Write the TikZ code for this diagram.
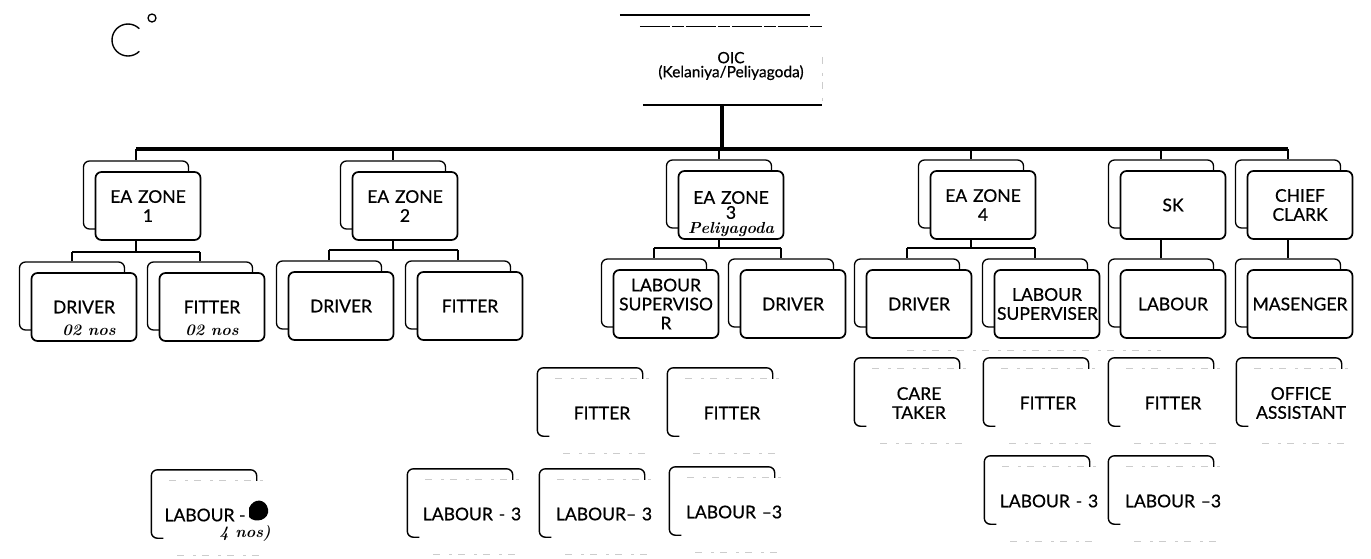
\documentclass[tikz,border=0pt]{standalone}
\usepackage{fontspec}
\setsansfont{Lato}[FakeBold=0.6]
\renewcommand\familydefault{\sfdefault}
\usetikzlibrary{calc}

% shadowed box: a back card offset up-left, the titled front card on top
\newcommand\shbox[4]{%
  \node[backbox] (#1b) at (#2-12,#3-11) {};
  \node[frontbox] (#1) at (#2,#3) {#4};}
% faded box: only the back card's top and left edges are printed
\newcommand\fadebox[4]{%
  \node[ghost] (#1) at (#2,#3) {#4};
  \draw[edge] ($(#1.south west)+(0,-11)$) -- ($(#1.south west)+(-12,-11)$)
     -- ($(#1.north west)+(-12,-11)$) -- ($(#1.north east)+(-12,-11)$)
     -- ($(#1.north east)+(-12,0)$);
  \draw[faint] ($(#1.north west)+(6,0)$) -- ($(#1.north east)+(-6,0)$);
  \draw[faint] ($(#1.south west)+(14,6)$) -- ($(#1.south east)+(-10,6)$);}
% pen-written notes
\newcommand\handfont{\rmfamily\itshape}

\begin{document}
\begin{tikzpicture}[x=1pt,y=-1pt,
  every node/.style={font=\fontsize{17.5}{19}\selectfont},
  box/.style={rounded corners=6pt, minimum width=105pt, minimum height=68pt,
    text width=100pt, inner xsep=2.5pt, inner ysep=0pt, align=center},
  frontbox/.style={box, draw, fill=white, line width=1.7pt},
  backbox/.style={box, draw, fill=white, line width=1.3pt},
  ghost/.style={box},
  bus/.style={line width=3.2pt},
  brk/.style={line width=2.8pt},
  drop/.style={line width=1.8pt},
  edge/.style={line width=1.4pt, rounded corners=6pt},
  faint/.style={gray!40, line width=0.8pt, dash pattern=on 7pt off 9pt on 3pt off 6pt},
  hand/.style={font=\handfont\bfseries\fontsize{16}{16}\selectfont, inner sep=1pt}
]
\fill[white] (0,0) rectangle (1371,558);
\useasboundingbox (0,0) rectangle (1371,558);

% head office
\node[align=center, minimum width=182pt, minimum height=78pt, inner sep=0pt,
  font=\fontsize{15.5}{14}\selectfont] (oic) at (731,66) {OIC\\(Kelaniya/Peliyagoda)};
\draw[line width=1.4pt] ($(oic.north west)+(-20,-12)$) -- ($(oic.north east)+(-12,-12)$);
\draw[line width=1.2pt, dash pattern=on 30pt off 2pt on 12pt off 2pt] (oic.north west) -- (oic.north east);
\draw[line width=1.5pt] ($(oic.south west)+(3,0)$) -- (oic.south east);
\draw[faint] ($(oic.north east)+(0,30)$) -- ($(oic.south east)+(0,-4)$);

% first level
\shbox{zA}{148}{206}{EA ZONE\\1}
\shbox{zB}{405}{206}{EA ZONE\\2}
\shbox{zC}{731}{205}{EA ZONE\\[-4pt]3}
\node[hand] (zCn) at (731,230) {Peliyagoda};
\shbox{zD}{983}{205}{EA ZONE\\4}
\shbox{sk}{1173}{205}{SK}
\shbox{cc}{1300}{205}{CHIEF\\CLARK}

% second level
\shbox{dA}{84}{307}{DRIVER}
\shbox{fA}{212}{307}{FITTER}
\node[hand] (dAn) at (89,330) {02 nos};
\node[hand] (fAn) at (212,330) {02 nos};
\shbox{dB}{341}{306}{DRIVER}
\shbox{fB}{470}{306}{FITTER}
\shbox{lsC}{666}{304}{LABOUR\\SUPERVISO\\R}
\shbox{dC}{793}{304}{DRIVER}
\shbox{dD}{919}{304}{DRIVER}
\shbox{lsD}{1047}{304}{LABOUR\\SUPERVISER}
\shbox{lab}{1173}{304}{LABOUR}
\shbox{mas}{1300}{304}{MASENGER}

% third level
\fadebox{fC1}{602}{413}{FITTER}
\fadebox{fC2}{732}{413}{FITTER}
\fadebox{ctD}{919}{403}{CARE\\TAKER}
\fadebox{fD}{1048}{403}{FITTER}
\fadebox{fS}{1173}{403}{FITTER}
\fadebox{oa}{1301}{403}{OFFICE\\ASSISTANT}

% fourth level
\fadebox{lA}{216}{515}{}
\node (lAt) at (205,515) {LABOUR -};
\node[hand] (lAn) at (245,533) {4 nos)};
\fill (249,508) .. controls (254,497) and (266,499) .. (268,509)
      .. controls (270,520) and (255,524) .. (249,517) -- cycle;
\fadebox{lB}{472}{514}{LABOUR - 3}
\fadebox{lC1}{604}{514}{LABOUR– 3}
\fadebox{lC2}{734}{512}{LABOUR –3}
\fadebox{lD1}{1049}{501}{LABOUR - 3}
\fadebox{lD2}{1173}{501}{LABOUR –3}

% main bus
\coordinate (busy) at (0,149);
\draw[line width=3.8pt] ([xshift=-9pt]oic.south) -- ([xshift=-9pt]oic.south |- busy);
\draw[bus] (zAb.north |- busy) -- (ccb.north |- busy);
\foreach \n in {zA,zB,zC,zD,sk,cc}
  \draw[drop] (\n b.north |- busy) -- (\n b.north);

% zone brackets
\coordinate (bA) at (0,252);
\coordinate (bB) at (0,250);
\coordinate (bC) at (0,248);
\coordinate (bD) at (0,248);
\draw[drop] (zAb.north |- zA.south) -- (zAb.north |- bA);
\draw[brk] (dAb.north |- bA) -- (fAb.north |- bA);
\draw[drop] (dAb.north |- bA) -- (dAb.north);
\draw[drop] (fAb.north |- bA) -- (fAb.north);
\draw[drop] (zBb.north |- zB.south) -- (zBb.north |- bB);
\draw[brk] (dBb.north |- bB) -- (fBb.north |- bB);
\draw[drop] (dBb.north |- bB) -- (dBb.north);
\draw[drop] (fBb.north |- bB) -- (fBb.north);
\draw[drop] (zCb.north |- zC.south) -- (zCb.north |- bC);
\draw[brk] (lsCb.north |- bC) -- (dCb.north |- bC);
\draw[drop] (lsCb.north |- bC) -- (lsCb.north);
\draw[drop] (dCb.north |- bC) -- (dCb.north);
\draw[drop] (zDb.north |- zD.south) -- (zDb.north |- bD);
\draw[brk] (dDb.north |- bD) -- (lsDb.north |- bD);
\draw[drop] (dDb.north |- bD) -- (dDb.north);
\draw[drop] (lsDb.north |- bD) -- (lsDb.north);
\draw[drop] (skb.north |- sk.south) -- (labb.north);
\draw[drop] (ccb.north |- cc.south) -- (masb.north);

% faded bracket below the zone 4 row
\coordinate (fy) at (0,350);
\draw[faint] (dDb.north |- fy) -- (labb.north |- fy);

% pen marks in the corner
\draw[line width=1.4pt] (128,40) ++(45:16) arc[start angle=45, end angle=315, radius=16];
\draw[line width=1.3pt] (152,18) circle[radius=4];
\end{tikzpicture}
\end{document}
